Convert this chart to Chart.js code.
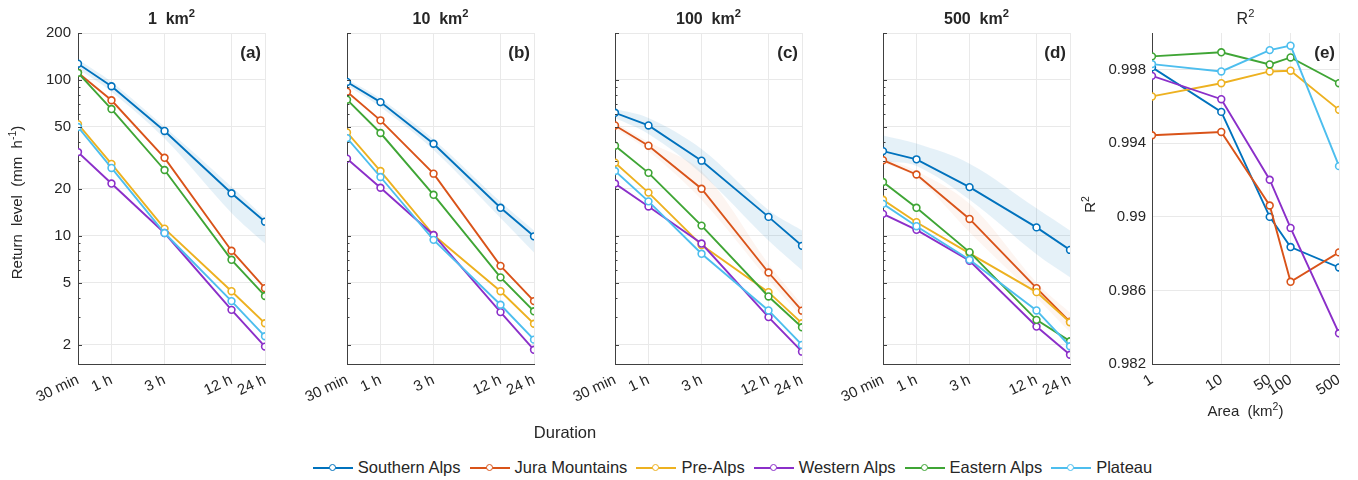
<!DOCTYPE html>
<html>
<head>
<meta charset="utf-8">
<script src="https://cdn.jsdelivr.net/npm/chart.js@4"></script>
<style>
body { margin:0; width:1358px; height:480px; background:#fff; position:relative; overflow:hidden; font-family:"Liberation Sans", Arial, sans-serif; }
.pane { position:absolute; top:0; }
#duration { position:absolute; left:505px; top:423px; width:120px; text-align:center; font-size:16.5px; line-height:18px; color:#262626; }
#legend { position:absolute; left:0; top:458px; width:1358px; padding-left:107px; box-sizing:border-box; display:flex; justify-content:center;
  font-size:16.5px; line-height:19px; color:#262626; }
#legend .item { display:flex; align-items:center; margin-right:9px; }
#legend .item:last-child { margin-right:0; }
#legend .mk { position:relative; width:40px; height:2px; margin-right:5px; }
#legend .mk i { position:absolute; left:16px; top:-3px; width:5px; height:5px; border-radius:50%; background:#fff; border:1.5px solid; box-sizing:content-box; }
</style>
</head>
<body>
<div class="pane"><canvas id="pa" width="275" height="440"></canvas></div>
<div class="pane"><canvas id="pb" width="275" height="440"></canvas></div>
<div class="pane"><canvas id="pc" width="275" height="440"></canvas></div>
<div class="pane"><canvas id="pd" width="275" height="440"></canvas></div>
<div class="pane"><canvas id="pe" width="275" height="440"></canvas></div>
<div id="duration">Duration</div>
<div id="legend"></div>

<script>
// regions and colours
const regions = ['Southern Alps', 'Jura Mountains', 'Pre-Alps', 'Western Alps', 'Eastern Alps', 'Plateau'];
const colors = ['#0072BD', '#D95319', '#EDB120', '#8B2FC9', '#3FA535', '#4DBEEE'];

// durations (hours) and their tick labels
const durations = [0.5, 1, 3, 12, 24];
const durationLabels = ['30 min', '1 h', '3 h', '12 h', '24 h'];
const rlTicks = [2, 5, 10, 20, 50, 100, 200];
const rlMinor = [2, 3, 4, 5, 6, 7, 8, 9, 10, 20, 30, 40, 50, 60, 70, 80, 90, 100, 200];

// return levels (mm/h), one row per region, one column per duration
const rl1 = [
  [127, 91, 47, 18.7, 12.3],
  [111, 74, 31.6, 8.0, 4.6],
  [52, 28.9, 11.1, 4.4, 2.74],
  [34.4, 21.6, 10.4, 3.34, 1.94],
  [111, 65, 26.4, 7.0, 4.1],
  [49.8, 27.2, 10.4, 3.8, 2.26]
];
const rl10 = [
  [97, 72, 38.9, 15.1, 9.9],
  [84, 55, 25, 6.4, 3.8],
  [46, 26, 10.1, 4.4, 2.72],
  [31.2, 20.3, 10.1, 3.23, 1.85],
  [74.6, 45.6, 18.3, 5.4, 3.27],
  [42.3, 23.8, 9.4, 3.6, 2.15]
];
const rl100 = [
  [61.5, 51, 30.3, 13.2, 8.6],
  [51, 37.8, 20, 5.8, 3.3],
  [29.4, 18.9, 8.7, 4.34, 2.74],
  [21.6, 15.4, 8.9, 3.0, 1.8],
  [37.8, 25.3, 11.6, 4.07, 2.58],
  [26, 16.6, 7.65, 3.31, 1.99]
];
const rl500 = [
  [34.9, 30.9, 20.5, 11.3, 8.1],
  [30.5, 24.7, 12.8, 4.6, 2.8],
  [17, 12.2, 7.7, 4.34, 2.78],
  [13.8, 10.9, 6.9, 2.61, 1.72],
  [22.1, 15.1, 7.84, 2.88, 2.1],
  [16, 11.5, 7.0, 3.31, 1.95]
];

// uncertainty bands (upper / lower) for Southern Alps and Jura Mountains
const band1Up = [135, 97, 50, 20.6, 13];
const band1Lo = [118, 84, 42, 14, 8.9];
const band10Up = [101, 76, 41.5, 16.5, 10.8];
const band10Lo = [92, 67, 35.5, 13, 7.8];
const band100Up = [65, 57, 36, 14.6, 10.8];
const band100Lo = [57, 45, 25, 9.3, 6.0];
const band100JuraUp = [53, 40, 26, 6.6, 3.6];
const band100JuraLo = [49, 35, 17, 5.2, 3.0];
const band500Up = [44, 39, 29, 15, 10.8];
const band500Lo = [30, 28, 17, 7.6, 5.4];
const band500JuraUp = [31.5, 26, 16, 5.0, 3.2];
const band500JuraLo = [29.5, 23.5, 10.5, 4.0, 2.4];

// R2 panel
const areas = [1, 10, 50, 100, 500];
const r2Ticks = [0.982, 0.986, 0.99, 0.994, 0.998];
const r2 = [
  [0.99813, 0.99571, 0.9900, 0.98836, 0.98725],
  [0.99444, 0.99462, 0.99062, 0.98647, 0.98807],
  [0.99655, 0.99727, 0.99791, 0.99795, 0.99582],
  [0.99767, 0.9964, 0.99202, 0.9894, 0.98367],
  [0.99873, 0.99895, 0.99829, 0.99867, 0.99727],
  [0.99831, 0.99791, 0.99907, 0.99931, 0.99276]
];

const plotLefts = [78, 347, 615, 883, 1152];
const AXW = 78, PADR = 10, TOP = 33, XAXH = 76;
const FONT = '"Liberation Sans", Arial, sans-serif';
const TXT = '#262626';

function drawRich(ctx, parts, size, bold, align) {
  const w = bold ? 'bold ' : '';
  let total = 0;
  parts.forEach(p => {
    ctx.font = w + (p[1] ? size * 0.7 : size) + 'px ' + FONT;
    total += ctx.measureText(p[0]).width;
  });
  let x = align === 'center' ? -total / 2 : align === 'right' ? -total : 0;
  ctx.textBaseline = 'alphabetic';
  ctx.textAlign = 'left';
  parts.forEach(p => {
    ctx.font = w + (p[1] ? size * 0.7 : size) + 'px ' + FONT;
    ctx.fillText(p[0], x, p[1] ? -size * 0.42 : 0);
    x += ctx.measureText(p[0]).width;
  });
}

const textPlugin = {
  id: 'panelText',
  afterDraw(chart, args, opts) {
    const ctx = chart.ctx, ca = chart.chartArea;
    (opts.items || []).forEach(it => {
      ctx.save();
      ctx.fillStyle = TXT;
      ctx.translate(it.x(ca), it.y(ca));
      if (it.rot) ctx.rotate(it.rot);
      drawRich(ctx, it.parts, it.size, it.bold, it.align || 'center');
      ctx.restore();
    });
  }
};

const tickPlugin = {
  id: 'minorTicks',
  afterDraw(chart, args, opts) {
    if (!opts.values) return;
    const ctx = chart.ctx, s = chart.scales.y, ca = chart.chartArea;
    ctx.save();
    ctx.strokeStyle = '#404040';
    ctx.lineWidth = 1;
    opts.values.forEach(v => {
      const y = Math.round(s.getPixelForValue(v)) + 0.5;
      const len = rlTicks.includes(v) ? 4 : 2.5;
      ctx.beginPath();
      ctx.moveTo(ca.left, y);
      ctx.lineTo(ca.left + len, y);
      ctx.stroke();
    });
    ctx.restore();
  }
};

function lineSets(xs, rows) {
  return regions.map((r, i) => ({
    label: r,
    data: xs.map((x, j) => ({ x: x, y: rows[i][j] })),
    borderColor: colors[i],
    backgroundColor: '#fff',
    pointBackgroundColor: '#fff',
    pointBorderColor: colors[i],
    pointRadius: 3.4,
    pointBorderWidth: 1.6,
    borderWidth: 1.9,
    tension: 0,
    fill: false,
    order: 10 - i
  }));
}

function bandSets(up, lo, rgba) {
  return [
    { data: durations.map((x, j) => ({ x: x, y: up[j] })), borderWidth: 0, pointRadius: 0, tension: 0.35, fill: '+1', backgroundColor: rgba, order: 30 },
    { data: durations.map((x, j) => ({ x: x, y: lo[j] })), borderWidth: 0, pointRadius: 0, tension: 0.35, fill: false, order: 31 }
  ];
}

const gridCfg = { color: '#e9e9e9', drawTicks: false };
const borderCfg = { color: '#404040', width: 1 };
const tickFont = { family: FONT, size: 15 };

// keep every chart area the same size, whatever the rotated labels need
function fitX(s) { s.height = XAXH; s.paddingLeft = 0; s.paddingRight = 0; }
function fitY(s) { s.width = AXW; s.paddingTop = 0; s.paddingBottom = 0; }

function titleItems(title, tag, titleBold) {
  return [
    { parts: title, size: 16, bold: titleBold, x: ca => (ca.left + ca.right) / 2, y: () => 24 },
    { parts: [[tag, 0]], size: 17, bold: true, align: 'right', x: ca => ca.right - 4, y: () => 58 }
  ];
}

function rlPanel(id, rows, bands, title, tag, first) {
  const items = titleItems(title, tag, true);
  if (first) {
    items.push({ parts: [['Return  level  (mm  h', 0], ['-1', 1], [')', 0]], size: 15, rot: -Math.PI / 2,
      x: () => 22, y: ca => (ca.top + ca.bottom) / 2 + 4 });
  }
  let ds = lineSets(durations, rows);
  bands.forEach(b => { ds = ds.concat(bandSets(b[0], b[1], b[2])); });
  new Chart(document.getElementById(id), {
    type: 'line',
    data: { datasets: ds },
    plugins: [textPlugin, tickPlugin],
    options: {
      responsive: false, animation: false, devicePixelRatio: 1,
      layout: { padding: { top: TOP, right: PADR, left: 0, bottom: 0 } },
      plugins: { legend: { display: false }, tooltip: { enabled: false },
        panelText: { items: items }, minorTicks: { values: rlMinor } },
      scales: {
        x: {
          type: 'logarithmic', min: 0.5, max: 24,
          afterBuildTicks: s => { s.ticks = durations.map(v => ({ value: v })); },
          afterFit: fitX,
          ticks: { autoSkip: false, minRotation: 25, maxRotation: 25, padding: 7, color: TXT,
            font: tickFont, callback: v => durationLabels[durations.indexOf(v)] },
          grid: gridCfg, border: borderCfg
        },
        y: {
          type: 'logarithmic', min: 1.5, max: 200,
          afterBuildTicks: s => { s.ticks = rlTicks.map(v => ({ value: v })); },
          afterFit: fitY,
          ticks: { display: first, padding: 7, color: TXT, font: tickFont, callback: v => String(v) },
          grid: gridCfg, border: borderCfg
        }
      }
    }
  });
}

rlPanel('pa', rl1, [[band1Up, band1Lo, 'rgba(0,114,189,0.10)']], [['1  km', 0], ['2', 1]], '(a)', true);
rlPanel('pb', rl10, [[band10Up, band10Lo, 'rgba(0,114,189,0.10)']], [['10  km', 0], ['2', 1]], '(b)', false);
rlPanel('pc', rl100, [[band100Up, band100Lo, 'rgba(0,114,189,0.10)'], [band100JuraUp, band100JuraLo, 'rgba(217,83,25,0.06)']], [['100  km', 0], ['2', 1]], '(c)', false);
rlPanel('pd', rl500, [[band500Up, band500Lo, 'rgba(0,114,189,0.10)'], [band500JuraUp, band500JuraLo, 'rgba(217,83,25,0.06)']], [['500  km', 0], ['2', 1]], '(d)', false);

// R2 panel
const itemsE = titleItems([['R', 0], ['2', 1]], '(e)', false);
itemsE.push({ parts: [['R', 0], ['2', 1]], size: 15, rot: -Math.PI / 2, x: () => 21, y: ca => (ca.top + ca.bottom) / 2 + 6 });
itemsE.push({ parts: [['Area  (km', 0], ['2', 1], [')', 0]], size: 15, x: ca => (ca.left + ca.right) / 2, y: () => 416 });
new Chart(document.getElementById('pe'), {
  type: 'line',
  data: { datasets: lineSets(areas, r2) },
  plugins: [textPlugin],
  options: {
    responsive: false, animation: false, devicePixelRatio: 1,
    layout: { padding: { top: TOP, right: PADR, left: 0, bottom: 0 } },
    plugins: { legend: { display: false }, tooltip: { enabled: false }, panelText: { items: itemsE } },
    scales: {
      x: {
        type: 'logarithmic', min: 1, max: 500,
        afterBuildTicks: s => { s.ticks = areas.map(v => ({ value: v })); },
        afterFit: fitX,
        ticks: { autoSkip: false, minRotation: 32, maxRotation: 32, padding: 7, color: TXT,
          font: tickFont, callback: v => String(v) },
        grid: gridCfg, border: borderCfg
      },
      y: {
        type: 'linear', min: 0.982, max: 1.0,
        afterBuildTicks: s => { s.ticks = r2Ticks.map(v => ({ value: v })); },
        afterFit: fitY,
        ticks: { padding: 6, color: TXT, font: tickFont, callback: v => String(+(+v).toFixed(3)) },
        grid: gridCfg, border: borderCfg
      }
    }
  }
});

// position the panes
document.querySelectorAll('.pane').forEach((p, i) => { p.style.left = (plotLefts[i] - AXW) + 'px'; });

// legend
const leg = document.getElementById('legend');
regions.forEach((r, i) => {
  const it = document.createElement('span');
  it.className = 'item';
  it.innerHTML = '<span class="mk" style="background:' + colors[i] + '"><i style="border-color:' + colors[i] + '"></i></span>' + r;
  leg.appendChild(it);
});
</script>
</body>
</html>
